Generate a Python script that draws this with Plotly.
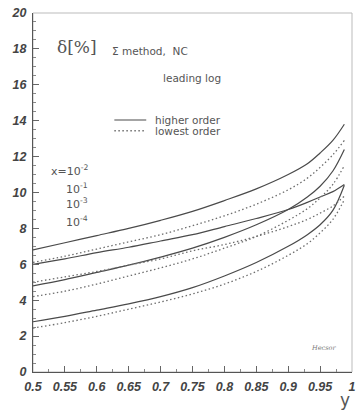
import plotly.graph_objects as go

# ---- data ----
y_vals = [0.50, 0.55, 0.60, 0.65, 0.70, 0.75, 0.80, 0.85, 0.90, 0.93, 0.95, 0.97, 0.988]

# higher order (solid)
ho_x1e2 = [6.8, 7.2, 7.6, 8.0, 8.45, 8.95, 9.55, 10.2, 11.0, 11.6, 12.2, 12.9, 13.8]
ho_x1e1 = [6.0, 6.3, 6.65, 6.95, 7.3, 7.65, 8.1, 8.55, 9.05, 9.45, 9.75, 10.05, 10.45]
ho_x1e3 = [4.8, 5.15, 5.55, 5.95, 6.4, 6.9, 7.5, 8.2, 9.05, 9.75, 10.35, 11.2, 12.4]
ho_x1e4 = [2.8, 3.1, 3.45, 3.8, 4.2, 4.7, 5.35, 6.1, 7.0, 7.65, 8.2, 9.0, 10.4]

# lowest order (dotted)
lo_x1e2 = [6.1, 6.45, 6.85, 7.25, 7.65, 8.15, 8.7, 9.35, 10.15, 10.8, 11.4, 12.1, 12.9]
lo_x1e1 = [5.0, 5.3, 5.6, 5.95, 6.3, 6.75, 7.1, 7.55, 8.1, 8.5, 8.85, 9.25, 9.8]
lo_x1e3 = [4.2, 4.5, 4.9, 5.35, 5.8, 6.3, 6.9, 7.55, 8.45, 9.1, 9.7, 10.45, 11.5]
lo_x1e4 = [2.45, 2.75, 3.1, 3.5, 3.9, 4.35, 4.9, 5.6, 6.5, 7.15, 7.75, 8.5, 9.6]

x_ticks = [0.5, 0.55, 0.6, 0.65, 0.7, 0.75, 0.8, 0.85, 0.9, 0.95, 1.0]
x_ticktext = ["0.5", "0.55", "0.6", "0.65", "0.7", "0.75", "0.8", "0.85", "0.9", "0.95", "1"]
y_ticks = [0, 2, 4, 6, 8, 10, 12, 14, 16, 18, 20]

x_labels = ["x=10<sup>-2</sup>", "10<sup>-1</sup>", "10<sup>-3</sup>", "10<sup>-4</sup>"]

fig = go.Figure()

solid_col = "#4a4a4a"
dot_col = "#6e6e6e"
dot_dash = "1.5px,2.5px"
for s in [ho_x1e2, ho_x1e1, ho_x1e3, ho_x1e4]:
    fig.add_trace(go.Scatter(x=y_vals, y=s, mode="lines", line=dict(color=solid_col, width=1.2, shape="spline"),
                             showlegend=False, hoverinfo="skip"))
for s in [lo_x1e2, lo_x1e1, lo_x1e3, lo_x1e4]:
    fig.add_trace(go.Scatter(x=y_vals, y=s, mode="lines", line=dict(color=dot_col, width=1.3, dash=dot_dash, shape="spline"),
                             showlegend=False, hoverinfo="skip"))

tickfont = dict(family="Liberation Sans", size=12.5, color="#444", weight="bold", style="italic")

fig.update_xaxes(range=[0.5, 1.0], tickvals=x_ticks, ticktext=x_ticktext, ticks="inside", ticklen=6,
                 tickcolor="#666", showline=True, linecolor="#555", linewidth=1, showgrid=False, zeroline=False,
                 tickfont=tickfont, ticklabelstandoff=3,
                 minor=dict(ticks="inside", dtick=0.025, tick0=0.5, ticklen=3, tickcolor="#888"))
fig.update_yaxes(range=[0, 20], tickvals=y_ticks, ticks="inside", ticklen=6, tickcolor="#666",
                 showline=True, linecolor="#555", linewidth=1, showgrid=False, zeroline=False,
                 tickfont=tickfont, ticklabelstandoff=3,
                 minor=dict(ticks="inside", dtick=0.5, tick0=0, ticklen=3, tickcolor="#888"))

# light frame on top/right
fig.add_shape(type="rect", xref="paper", yref="paper", x0=0, y0=0, x1=1, y1=1,
              line=dict(color="#bbbbbb", width=1), layer="below")

txt = "#555"
ann = []
ann.append(dict(x=0.07, y=0.905, xref="paper", yref="paper", text="δ[%]", showarrow=False,
                xanchor="left", yanchor="middle", font=dict(family="DejaVu Serif", size=17, color=txt)))
ann.append(dict(x=0.24, y=0.895, xref="paper", yref="paper", text="Σ method,  NC", showarrow=False,
                xanchor="left", yanchor="middle", font=dict(family="DejaVu Sans", size=10.5, color=txt)))
ann.append(dict(x=0.40, y=0.818, xref="paper", yref="paper", text="leading log", showarrow=False,
                xanchor="left", yanchor="middle", font=dict(family="DejaVu Sans", size=10.5, color=txt)))
ann.append(dict(x=0.375, y=0.702, xref="paper", yref="paper", text="higher order", showarrow=False,
                xanchor="left", yanchor="middle", font=dict(family="DejaVu Sans", size=10.5, color=txt)))
ann.append(dict(x=0.375, y=0.672, xref="paper", yref="paper", text="lowest order", showarrow=False,
                xanchor="left", yanchor="middle", font=dict(family="DejaVu Sans", size=10.5, color=txt)))
# x labels
lab_y = [0.560, 0.510, 0.468, 0.420]
lab_x = [0.05, 0.097, 0.097, 0.097]
for t, yy, xx in zip(x_labels, lab_y, lab_x):
    ann.append(dict(x=xx, y=yy, xref="paper", yref="paper", text=t, showarrow=False,
                    xanchor="left", yanchor="middle", font=dict(family="DejaVu Sans", size=11, color=txt)))
ann.append(dict(x=0.955, y=0.068, xref="paper", yref="paper", text="<i>Hecsor</i>", showarrow=False,
                xanchor="right", yanchor="middle", font=dict(family="DejaVu Serif", size=6.5, color="#777")))
ann.append(dict(x=1.0, y=-0.078, xref="paper", yref="paper", text="y", showarrow=False,
                xanchor="right", yanchor="middle", font=dict(family="DejaVu Sans", size=17, color="#555")))

# legend keys
fig.add_shape(type="line", xref="paper", yref="paper", x0=0.255, x1=0.355, y0=0.702, y1=0.702,
              line=dict(color=solid_col, width=1.2))
fig.add_shape(type="line", xref="paper", yref="paper", x0=0.255, x1=0.355, y0=0.672, y1=0.672,
              line=dict(color=dot_col, width=1.3, dash=dot_dash))

fig.update_layout(width=360, height=415, margin=dict(l=33, r=4, t=13, b=43),
                  plot_bgcolor="white", paper_bgcolor="white", annotations=ann, showlegend=False)

fig.write_html("out.html")
